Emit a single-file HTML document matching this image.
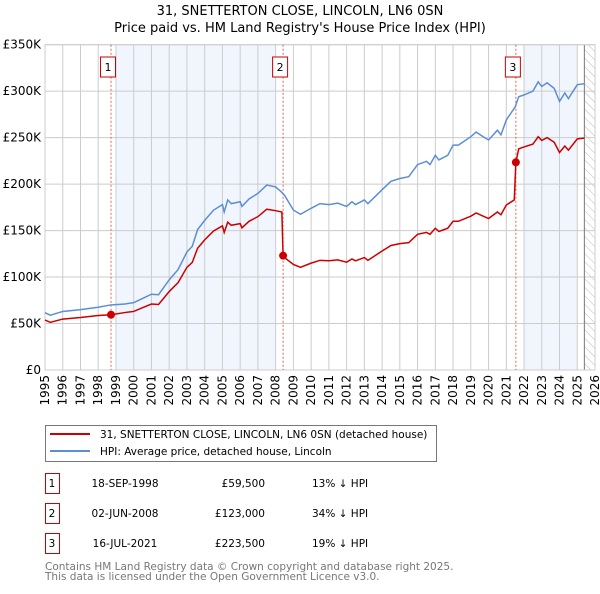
<!DOCTYPE html>
<html><head><meta charset="utf-8"><style>
body{margin:0;background:#fff;font-family:"DejaVu Sans","Liberation Sans",sans-serif;}
svg text{font-family:"DejaVu Sans","Liberation Sans",sans-serif;}
</style></head><body>
<svg id="c" width="600" height="590" xmlns="http://www.w3.org/2000/svg">
<defs><pattern id="hatch" width="6" height="6" patternUnits="userSpaceOnUse" patternTransform="rotate(-45)"><line x1="0" y1="0" x2="0" y2="6" stroke="#bbb" stroke-width="1"/></pattern></defs>
<text x="300" y="15" text-anchor="middle" font-size="13">31, SNETTERTON CLOSE, LINCOLN, LN6 0SN</text>
<text x="300" y="32" text-anchor="middle" font-size="13">Price paid vs. HM Land Registry's House Price Index (HPI)</text>
<g id="plot"></g>
<g>
<rect x="45.5" y="425.5" width="391" height="36" fill="#fff" stroke="#777"/>
<line x1="50" y1="434" x2="90" y2="434" stroke="#cc0000" stroke-width="2"/>
<text x="100" y="438" font-size="10.5">31, SNETTERTON CLOSE, LINCOLN, LN6 0SN (detached house)</text>
<line x1="50" y1="451" x2="90" y2="451" stroke="#5b8fd4" stroke-width="2"/>
<text x="100" y="455" font-size="10.5">HPI: Average price, detached house, Lincoln</text>
</g>
<g id="table" font-size="10.5"></g>
<text x="45" y="570" font-size="10.5" fill="#777">Contains HM Land Registry data © Crown copyright and database right 2025.</text>
<text x="45" y="580" font-size="10.5" fill="#777">This data is licensed under the Open Government Licence v3.0.</text>
</svg>
<script>
const hpiYears=[1995,1995.3,1996,1997,1998,1998.7,1999.5,2000,2000.5,2001,2001.4,2002,2002.5,2003,2003.3,2003.6,2004,2004.5,2005,2005.1,2005.3,2005.5,2006,2006.1,2006.5,2007,2007.5,2008,2008.3,2008.5,2009,2009.4,2010,2010.5,2011,2011.5,2012,2012.3,2012.5,2013,2013.2,2014,2014.5,2015,2015.5,2016,2016.5,2016.7,2017,2017.2,2017.7,2018,2018.3,2019,2019.3,2019.7,2020,2020.5,2020.7,2021,2021.5,2021.7,2022,2022.5,2022.8,2023,2023.3,2023.7,2024,2024.3,2024.5,2025,2025.4];
const hpiValues=[61.7,59,63,65,67.5,70,71,72.5,77,81.5,81,97,108,127,133,151,161,172,178,170,183,179,181,176,184,190,199,197,192,188,172,167.5,174,179,178,179.5,176,181,178,183,179,194,203,206,208,221,224.5,221,231,226,231,242,242,251,256,251,247.5,258,253,269,283,294,296,300,310,305,309,303,289,298,292,307,308];
const redYears=[1995,1995.3,1996,1997,1998,1998.72,1999.5,2000,2000.5,2001,2001.4,2002,2002.5,2003,2003.3,2003.6,2004,2004.5,2005,2005.1,2005.3,2005.5,2006,2006.1,2006.5,2007,2007.5,2008,2008.35,2008.42,2008.5,2009,2009.4,2010,2010.5,2011,2011.5,2012,2012.3,2012.5,2013,2013.2,2014,2014.5,2015,2015.5,2016,2016.5,2016.7,2017,2017.2,2017.7,2018,2018.3,2019,2019.3,2019.7,2020,2020.5,2020.7,2021,2021.45,2021.54,2021.7,2022,2022.5,2022.8,2023,2023.3,2023.7,2024,2024.3,2024.5,2025,2025.4];
const redValues=[53.7,51.3,54.8,56.5,58.7,59.5,61.8,63,67,71,70.5,84.4,94,110.5,115.7,131,140,149.6,155,148,159,155.7,157.5,153,160,165,173,171.4,170,123,121,113.5,110.5,115,118,117.5,118.5,116,119.5,117.5,121,118,128,134,136,137,146,148,146,152.5,149,152.5,160,160,165.5,169,165.5,163,170,167,177.5,183,223.5,238,240,243,251,247,250,245,234,241,236.5,248.7,249.5];
const saleLabels=["1","2","3"];
const saleYears=[1998.72,2008.42,2021.54];
const saleValues=[59.5,123,223.5];
const saleDates=["18-SEP-1998","02-JUN-2008","16-JUL-2021"];
const salePrices=["£59,500","£123,000","£223,500"];
const saleDiffs=["13% ↓ HPI","34% ↓ HPI","19% ↓ HPI"];
const yTicks=[0,50,100,150,200,250,300,350];
const yTickLabels=["£0","£50K","£100K","£150K","£200K","£250K","£300K","£350K"];
const xTicks=[];for(let y=1995;y<=2026;y++)xTicks.push(y);

const L=45,R=595,T=44.7,B=370,X0=1995,X1=2026,YMAX=350;
const xs=v=>L+(v-X0)/(X1-X0)*(R-L);
const ys=v=>B-v/YMAX*(B-T);
const NS="http://www.w3.org/2000/svg";
const plot=document.getElementById('plot');
function mk(tag,attrs,parent){const e=document.createElementNS(NS,tag);for(const k in attrs)e.setAttribute(k,attrs[k]);(parent||plot).appendChild(e);return e;}
mk('rect',{x:xs(1999),y:T,width:xs(2008)-xs(1999),height:B-T,fill:'#eef3fc',opacity:0.8});
mk('rect',{x:xs(2022),y:T,width:xs(2025)-xs(2022),height:B-T,fill:'#eef3fc',opacity:0.8});
mk('rect',{x:xs(2025.4),y:T,width:R-xs(2025.4),height:B-T,fill:'url(#hatch)'});
xTicks.forEach(t=>{const g=mk('line',{x1:xs(t),x2:xs(t),y1:T,y2:B,stroke:'#ccc','stroke-width':1});


const tx=mk('text',{x:0,y:0,'font-size':12,'text-anchor':'end',transform:`translate(${xs(t)+4},${B+5}) rotate(-90)`});tx.textContent=t;

});
yTicks.forEach((t,i)=>{const g=mk('line',{x1:L,x2:R,y1:ys(t),y2:ys(t),stroke:'#ccc','stroke-width':1});


const tx=mk('text',{x:L-4,y:ys(t)+4,'font-size':12,'text-anchor':'end'});tx.textContent=yTickLabels[i];

});
mk('line',{x1:xs(2025.4),x2:xs(2025.4),y1:T,y2:B,stroke:'#777','stroke-width':1});
mk('rect',{x:L,y:T,width:R-L,height:B-T,fill:'none',stroke:'#ccc'});
saleYears.forEach((s,i)=>{const l=mk('line',{x1:xs(s),x2:xs(s),y1:T,y2:B,stroke:'#e06060','stroke-width':1,'stroke-dasharray':'2,2'});

});
const hp=mk('polyline',{points:hpiYears.map((y,i)=>xs(y)+','+ys(hpiValues[i])).join(' '),fill:'none',stroke:'#5b8fd4','stroke-width':1.5});


const rp=mk('polyline',{points:redYears.map((y,i)=>xs(y)+','+ys(redValues[i])).join(' '),fill:'none',stroke:'#cc0000','stroke-width':1.5});


saleYears.forEach((s,i)=>{const c=mk('circle',{cx:xs(s),cy:ys(saleValues[i]),r:4,fill:'#cc0000'});


const b=mk('rect',{x:xs(s)-10.5,y:57,width:15,height:20,fill:'#fff',stroke:'#cc0000'});


const t=mk('text',{x:xs(s)-3,y:71,'font-size':11,'text-anchor':'middle'});t.textContent=saleLabels[i];

});
const tb=document.getElementById('table');
saleLabels.forEach((lab,i)=>{const y=483+i*30;
const b=mk('rect',{x:45.5,y:y-9.5,width:14,height:20,fill:'none',stroke:'#cc0000'},tb);


const cells=[[52,lab,'middle'],[125,saleDates[i],'middle'],[265,salePrices[i],'end'],[312,saleDiffs[i],'start']];
cells.forEach(c=>{const t=mk('text',{x:c[0],y:y+4,'font-size':10.5,'text-anchor':c[2]},tb);t.textContent=c[1];

});});
</script>
</body></html>
